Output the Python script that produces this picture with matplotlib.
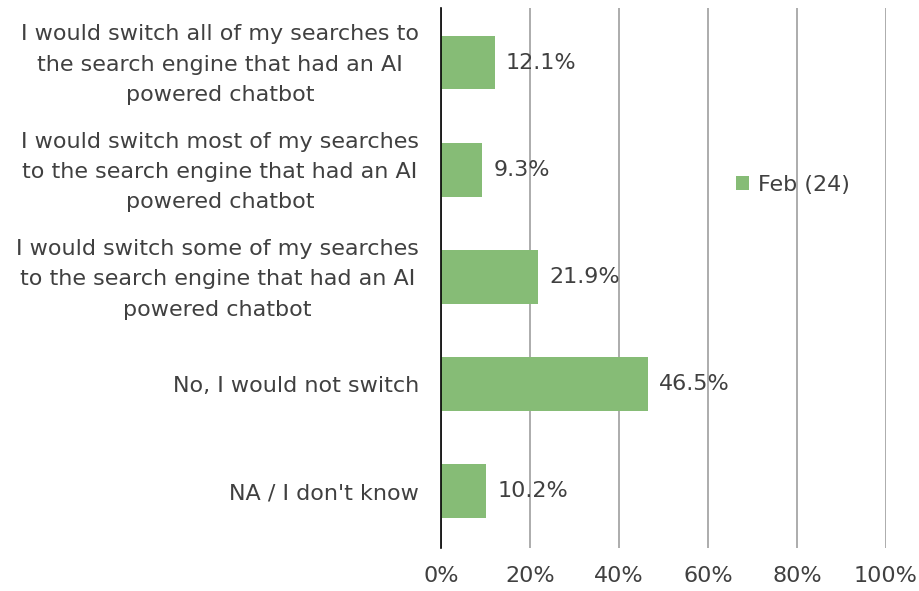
import matplotlib
matplotlib.use("Agg")
import matplotlib.pyplot as plt
from matplotlib.ticker import PercentFormatter
from matplotlib.transforms import ScaledTranslation

categories = [
    "I would switch all of my searches to\nthe search engine that had an AI\npowered chatbot",
    "I would switch most of my searches\nto the search engine that had an AI\npowered chatbot",
    "I would switch some of my searches\nto the search engine that had an AI\npowered chatbot",
    "No, I would not switch",
    "NA / I don't know",
]
values = [12.1, 9.3, 21.9, 46.5, 10.2]
series_name = "Feb (24)"
xticks = [0, 20, 40, 60, 80, 100]

text_color = "#404040"
bar_color = "#86BC76"
fs = 16

fig = plt.figure(figsize=(9.2, 5.91), dpi=100)
ax = fig.add_axes([441/920, 1-548/591, (886-441)/920, (548-8)/591])

y = list(range(len(categories)))
bars = ax.barh(y, values, height=0.5, color=bar_color, label=series_name, zorder=3)
ax.set_ylim(4.53, -0.51)
ax.set_xlim(0, 100)
ax.set_yticks(y)
ax.set_yticklabels(categories, fontsize=fs, color=text_color, ha="right",
                   multialignment="center", linespacing=1.65)
ax.tick_params(axis="y", length=0, pad=16)
ax.set_xticks(xticks)
ax.xaxis.set_major_formatter(PercentFormatter(decimals=0))
ax.tick_params(axis="x", length=0, pad=13, labelsize=fs, labelcolor=text_color)

# nudge multi-line labels up slightly
for lab in ax.get_yticklabels():
    if "\n" in lab.get_text():
        lab.set_transform(lab.get_transform() + ScaledTranslation(0, 5/100, fig.dpi_scale_trans))

ax.grid(axis="x", color="#A6A6A6", linewidth=1.3, zorder=0)
for s in ["top", "right", "bottom"]:
    ax.spines[s].set_visible(False)
ax.spines["left"].set_color("black")
ax.spines["left"].set_linewidth(1.2)
ax.spines["left"].set_zorder(4)

for yi, v in zip(y, values):
    ax.annotate(f"{v:.1f}%", xy=(v, yi), xytext=(8, 0), textcoords="offset points",
                va="center", ha="left", fontsize=fs, color=text_color, zorder=5)

fig.legend(loc="center left", bbox_to_anchor=(716/920, 1-185/591), frameon=False,
           fontsize=fs, labelcolor=text_color, handlelength=0.6, handleheight=0.6,
           handletextpad=0.4)

fig.savefig("out.png", dpi=100)
